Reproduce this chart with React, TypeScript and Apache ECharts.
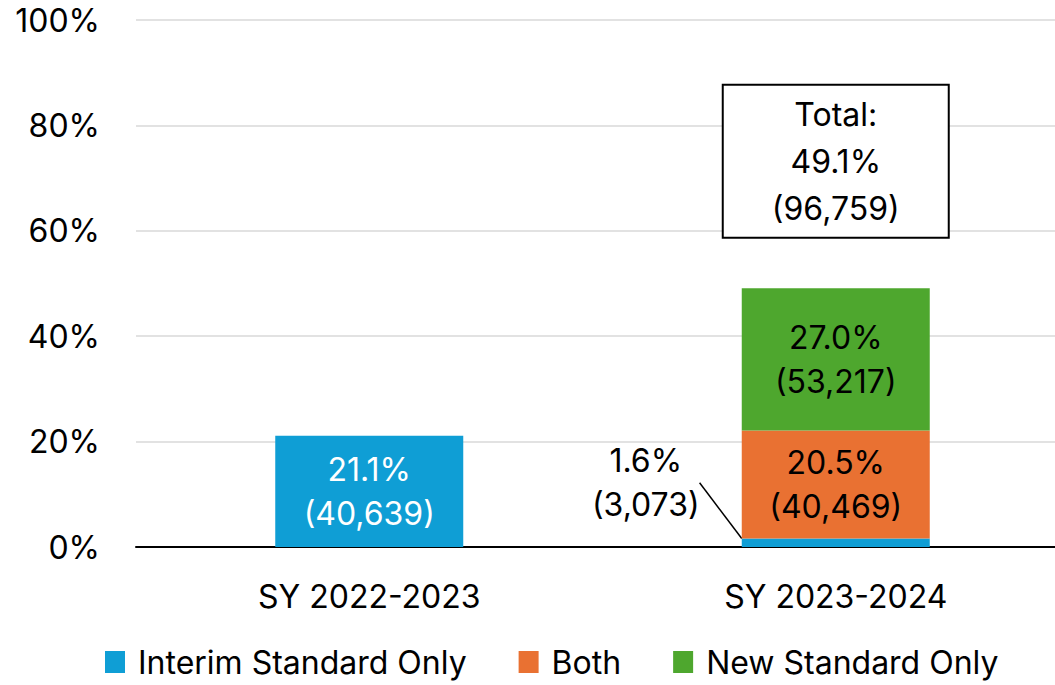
import React, { useEffect, useRef } from "react";
import * as echarts from "echarts";

const categories = ["SY 2022-2023", "SY 2023-2024"];
const seriesNames = ["Interim Standard Only", "Both", "New Standard Only"];
const interimPct = [21.1, 1.6];
const interimCount = [40639, 3073];
const bothPct: (number | null)[] = [null, 20.5];
const bothCount: (number | null)[] = [null, 40469];
const newPct: (number | null)[] = [null, 27.0];
const newCount: (number | null)[] = [null, 53217];
const totalPct = 49.1;
const totalCount = 96759;
const yTicks = [0, 20, 40, 60, 80, 100];

const colors = ["#0F9ED5", "#E97132", "#4EA72E"];
const FONT = "Inter";
const FS = 32;

const fmt = (p: number, c: number) =>
  `${p.toFixed(1)}%\n(${c.toLocaleString("en-US")})`;

export default function App() {
  const ref = useRef<HTMLDivElement>(null);
  useEffect(() => {
    document.body.style.margin = "0";
    const chart = echarts.init(ref.current!, null, { renderer: "svg" });
    const mk = (pcts: (number | null)[], counts: (number | null)[], textColor: string) =>
      pcts.map((p, i) => ({
        value: p,
        label: {
          show: p != null,
          formatter: p != null ? fmt(p, counts[i] as number) : "",
          color: textColor,
        },
      }));
    const interimData = interimPct.map((p, i) => {
      const small = p < 5;
      return {
        value: p,
        label: {
          show: true,
          formatter: fmt(p, interimCount[i]),
          color: small ? "#000" : "#fff",
        },
        labelLine: { show: small },
      };
    });
    chart.setOption({
      animation: false,
      textStyle: { fontFamily: FONT },
      grid: {
        left: 136,
        width: 933,
        top: 20,
        bottom: 138,
        containLabel: false,
        outerBoundsMode: "none",
      },
      legend: {
        bottom: 2,
        left: 100,
        itemWidth: 20,
        itemHeight: 22,
        itemGap: 52,
        icon: "rect",
        textStyle: { fontSize: FS, color: "#000", fontFamily: FONT, padding: [0, 0, 0, 8] },
        data: seriesNames,
      },
      xAxis: {
        type: "category",
        data: categories,
        axisTick: { show: false },
        axisLine: { lineStyle: { color: "#000", width: 2 } },
        axisLabel: { fontSize: FS, color: "#000", margin: 33, fontFamily: FONT },
      },
      yAxis: {
        type: "value",
        min: yTicks[0],
        max: yTicks[yTicks.length - 1],
        interval: 20,
        axisLabel: {
          fontSize: FS,
          color: "#000",
          margin: 36,
          formatter: (v: number) => `${v}%`,
          fontFamily: FONT,
        },
        axisLine: { show: false },
        axisTick: { show: false },
        splitLine: { lineStyle: { color: "#D9D9D9", width: 1.5 } },
      },
      series: [
        {
          name: seriesNames[0],
          type: "bar",
          stack: "s",
          barWidth: 188,
          itemStyle: { color: colors[0] },
          label: { position: "inside", fontSize: FS, lineHeight: 44, fontFamily: FONT },
          labelLine: { lineStyle: { color: "#000", width: 1.5 } },
          labelLayout: (params: any) =>
            params.dataIndex === 1 ? { dx: -190, dy: -60 } : {},
          data: interimData,
        },
        {
          name: seriesNames[1],
          type: "bar",
          stack: "s",
          barWidth: 188,
          itemStyle: { color: colors[1] },
          label: { position: "inside", fontSize: FS, lineHeight: 44, fontFamily: FONT },
          data: mk(bothPct, bothCount, "#000"),
        },
        {
          name: seriesNames[2],
          type: "bar",
          stack: "s",
          barWidth: 188,
          itemStyle: { color: colors[2] },
          label: { position: "inside", fontSize: FS, lineHeight: 44, fontFamily: FONT },
          data: mk(newPct, newCount, "#000"),
          markPoint: {
            symbol: "rect",
            symbolSize: 0,
            data: [
              {
                coord: [categories[1], totalPct],
                label: {
                  show: true,
                  position: "inside",
                  offset: [0, -127],
                  formatter: `Total:\n${totalPct.toFixed(1)}%\n(${totalCount.toLocaleString("en-US")})`,
                  fontSize: FS,
                  lineHeight: 47,
                  color: "#000",
                  fontFamily: FONT,
                  width: 224,
                  align: "center",
                  verticalAlign: "middle",
                  padding: [5, 0, 5, 0],
                  borderColor: "#000",
                  borderWidth: 2,
                  backgroundColor: "#fff",
                },
              },
            ],
          },
        },
      ],
    });
    return () => chart.dispose();
  }, []);
  return <div ref={ref} style={{ width: 1055, height: 685 }} />;
}
